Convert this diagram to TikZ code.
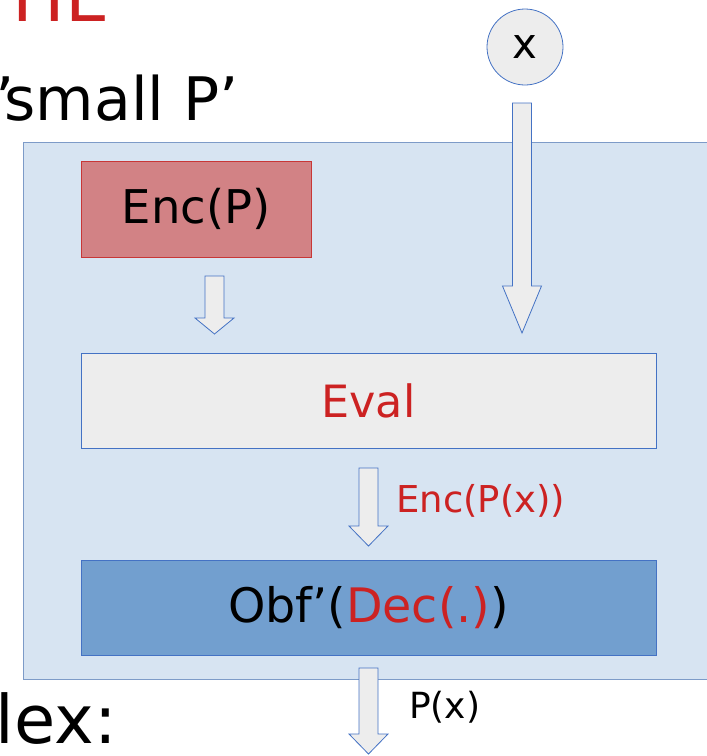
\documentclass[tikz,border=0pt]{standalone}
\usepackage{fontspec}
\setmainfont{DejaVu Sans}
\usetikzlibrary{calc}

\definecolor{outerfill}{RGB}{215,228,242}
\definecolor{outerline}{RGB}{125,155,200}
\definecolor{encfill}{RGB}{210,130,133}
\definecolor{encline}{RGB}{200,55,55}
\definecolor{evalfill}{RGB}{237,237,237}
\definecolor{obffill}{RGB}{114,159,207}
\definecolor{boxline}{RGB}{68,114,196}
\definecolor{txtred}{RGB}{204,34,34}

\tikzset{
  stage/.style={draw=boxline, line width=0.8pt, minimum height=95pt, inner sep=0pt},
  blockarr/.style={draw=boxline, fill=evalfill, line width=0.8pt, line join=miter},
}

% block arrow pointing down: top point, tip point, head length
\newcommand{\blockarrow}[3]{%
  \draw[blockarr] let \p1=(#1), \p2=(#2) in
    (\x1-9.5pt,\y1) -- (\x1+9.5pt,\y1) -- (\x1+9.5pt,\y2+#3pt) -- (\x1+19.5pt,\y2+#3pt)
    -- (\x1,\y2) -- (\x1-19.5pt,\y2+#3pt) -- (\x1-9.5pt,\y2+#3pt) -- cycle;}

\begin{document}
\begin{tikzpicture}[x=1pt, y=-1pt]
    \useasboundingbox (0,0) rectangle (707,756);

    % slide text around the figure
    \node[anchor=base east, inner sep=0pt, text=txtred, font=\fontsize{70}{80}\selectfont] (hdr) at (110,21) {HE};
    \node[anchor=base east, inner sep=0pt, font=\fontsize{60}{70}\selectfont] (smallp) at (239,120) {’\kern-0.17em small P’};
    \node[anchor=base east, inner sep=0pt, font=\fontsize{67}{76}\selectfont] (lexlbl) at (117,743) {lex:};

    % obfuscated program
    \draw[draw=outerline, fill=outerfill, line width=0.8pt] (23,142) rectangle (730,679);

    \node[stage, fill=encfill, draw=encline, minimum width=230pt, minimum height=96pt,
          font=\fontsize{46.5}{50}\selectfont] (encp) at (196,209) {Enc(P)};
    \node[stage, fill=evalfill, minimum width=575pt, text=txtred,
          font=\fontsize{44.5}{50}\selectfont] (eval) at (368.5,400.5) {Eval};
    \node[stage, fill=obffill, minimum width=575pt,
          font=\fontsize{47.5}{50}\selectfont] (obf) at (368.5,607.5) {Obf’(\textcolor{txtred}{Dec(.)})};

    % input
    \node[circle, draw=boxline, fill=evalfill, line width=0.8pt, minimum size=76pt, inner sep=0pt,
          font=\fontsize{42}{46}\selectfont] (xin) at (525,47) {x};

    % arrows
    \coordinate (xtop) at (522,103);
    \coordinate (xtip) at (522,333);
    \coordinate (ptop) at (214.5,276);
    \coordinate (ptip) at (214.5,334);
    \coordinate (rtop) at (368.5,468);
    \coordinate (rtip) at (368.5,546);
    \coordinate (otop) at (368.5,668);
    \coordinate (otip) at (368.5,754);

    \blockarrow{xtop}{xtip}{47}
    \blockarrow{ptop}{ptip}{16}
    \blockarrow{rtop}{rtip}{20}
    \blockarrow{otop}{otip}{20}

    \node[anchor=west, inner sep=0pt, text=txtred, font=\fontsize{37}{40}\selectfont] (resl) at (396,501) {Enc(P(x))};
    \node[anchor=west, inner sep=0pt, font=\fontsize{36}{40}\selectfont] (outl) at (409,707) {P(x)};
\end{tikzpicture}
\end{document}
